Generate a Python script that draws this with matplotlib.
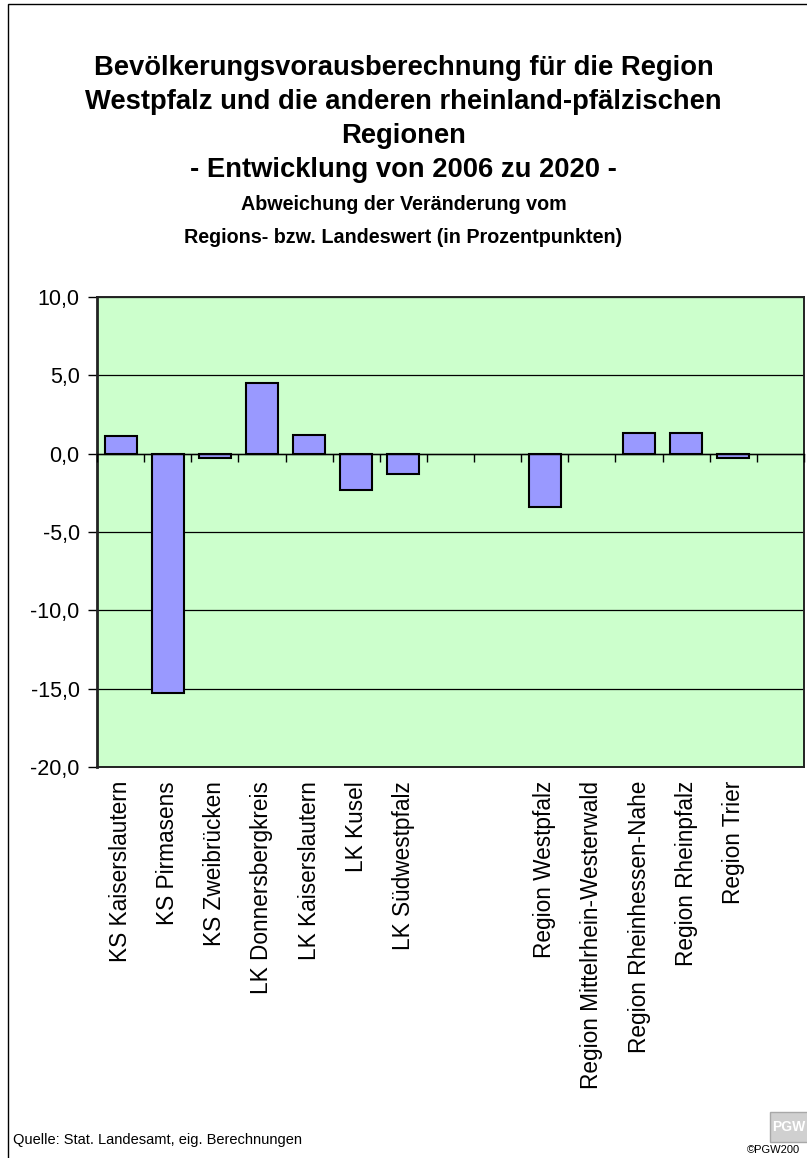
import matplotlib.pyplot as plt
import numpy as np
from matplotlib.patches import Rectangle
from matplotlib.ticker import FuncFormatter

plt.rcParams['font.family'] = ['Liberation Sans', 'DejaVu Sans']

# categories incl. the empty gaps of the original chart
labels = ["KS Kaiserslautern", "KS Pirmasens", "KS Zweibrücken",
          "LK Donnersbergkreis", "LK Kaiserslautern", "LK Kusel",
          "LK Südwestpfalz", "", "",
          "Region Westpfalz", "Region Mittelrhein-Westerwald",
          "Region Rheinhessen-Nahe", "Region Rheinpfalz", "Region Trier", ""]
values = [1.1, -15.3, -0.3, 4.5, 1.2, -2.3, -1.3, 0.0, 0.0,
          -3.4, 0.0, 1.3, 1.3, -0.3, 0.0]
yticks = [-20, -15, -10, -5, 0, 5, 10]

title_lines = ["Bevölkerungsvorausberechnung für die Region",
               "Westpfalz und die anderen rheinland-pfälzischen",
               "Regionen",
               "- Entwicklung von 2006 zu 2020 -"]
sub_lines = ["Abweichung der Veränderung vom",
             "Regions- bzw. Landeswert (in Prozentpunkten)"]

W, H = 807, 1158
fig = plt.figure(figsize=(W / 100, H / 100), dpi=100)

# outer frame (cut off at right / bottom like the source)
fig.patches.append(Rectangle((8 / W, -0.05), 1.2, 1 - 4 / H + 0.05,
                             transform=fig.transFigure, fill=False,
                             edgecolor="black", lw=1.0))

ax = fig.add_axes([97 / W, (H - 767) / H, (804 - 97) / W, (767 - 297) / H])
ax.set_facecolor("#ccffcc")

x = np.arange(len(labels))
vals = np.array(values)
has_bar = vals != 0
ax.bar(x[has_bar], vals[has_bar], width=0.68, color="#9999ff",
       edgecolor="black", linewidth=1.5, zorder=3)

ax.set_xlim(-0.5, len(labels) - 0.5)
ax.set_ylim(yticks[0], yticks[-1])
ax.set_yticks(yticks)
ax.yaxis.set_major_formatter(FuncFormatter(lambda v, p: f"{v:.1f}".replace(".", ",")))
ax.tick_params(axis="y", direction="out", length=6.5, width=1, pad=6,
               labelsize=15.5)
ax.grid(axis="y", color="black", linewidth=0.9, zorder=1)
ax.set_axisbelow(True)

ax.set_xticks(x)
ax.set_xticklabels(labels, rotation=90, fontsize=16.3, va="top", ha="center")
ax.tick_params(axis="x", length=0, pad=10)

for s in ax.spines.values():
    s.set_linewidth(1.4)
    s.set_color("#222222")
ax.spines["left"].set_linewidth(2)

# category axis crossing at zero with ticks between the categories
ax2 = ax.twiny()
ax2.set_xlim(ax.get_xlim())
for side in ["top", "left", "right"]:
    ax2.spines[side].set_visible(False)
ax2.spines["bottom"].set_position(("data", 0))
ax2.spines["bottom"].set_linewidth(1)
ax2.xaxis.set_ticks_position("bottom")
ax2.set_xticks(np.arange(len(labels) + 1) - 0.5)
ax2.set_xticklabels([])
ax2.tick_params(axis="x", direction="out", length=5.5, width=1)

# titles
ty = [68, 102, 136, 170]
for t, yy in zip(title_lines, ty):
    fig.text(0.5, 1 - yy / H, t, ha="center", va="center",
             fontsize=19.7, fontweight="bold")
sy = [204, 237]
for t, yy in zip(sub_lines, sy):
    fig.text(0.5, 1 - yy / H, t, ha="center", va="center",
             fontsize=14.2, fontweight="bold")

fig.text(13 / W, 1 - 1140 / H, "Quelle: Stat. Landesamt, eig. Berechnungen",
         ha="left", va="center", fontsize=10.5)

# small logo bottom right
fig.patches.append(Rectangle((770 / W, 1 - 1142 / H), 40 / W, 30 / H,
                             transform=fig.transFigure, facecolor="#d0d0d0",
                             edgecolor="#a8a8a8", lw=1))
fig.text(789 / W, 1 - 1127 / H, "PGW", ha="center", va="center",
         fontsize=10, fontweight="bold", color="white")
fig.text(747 / W, 1 - 1150 / H, "©PGW200", ha="left", va="center",
         fontsize=8)

fig.savefig("out.png", dpi=100)
